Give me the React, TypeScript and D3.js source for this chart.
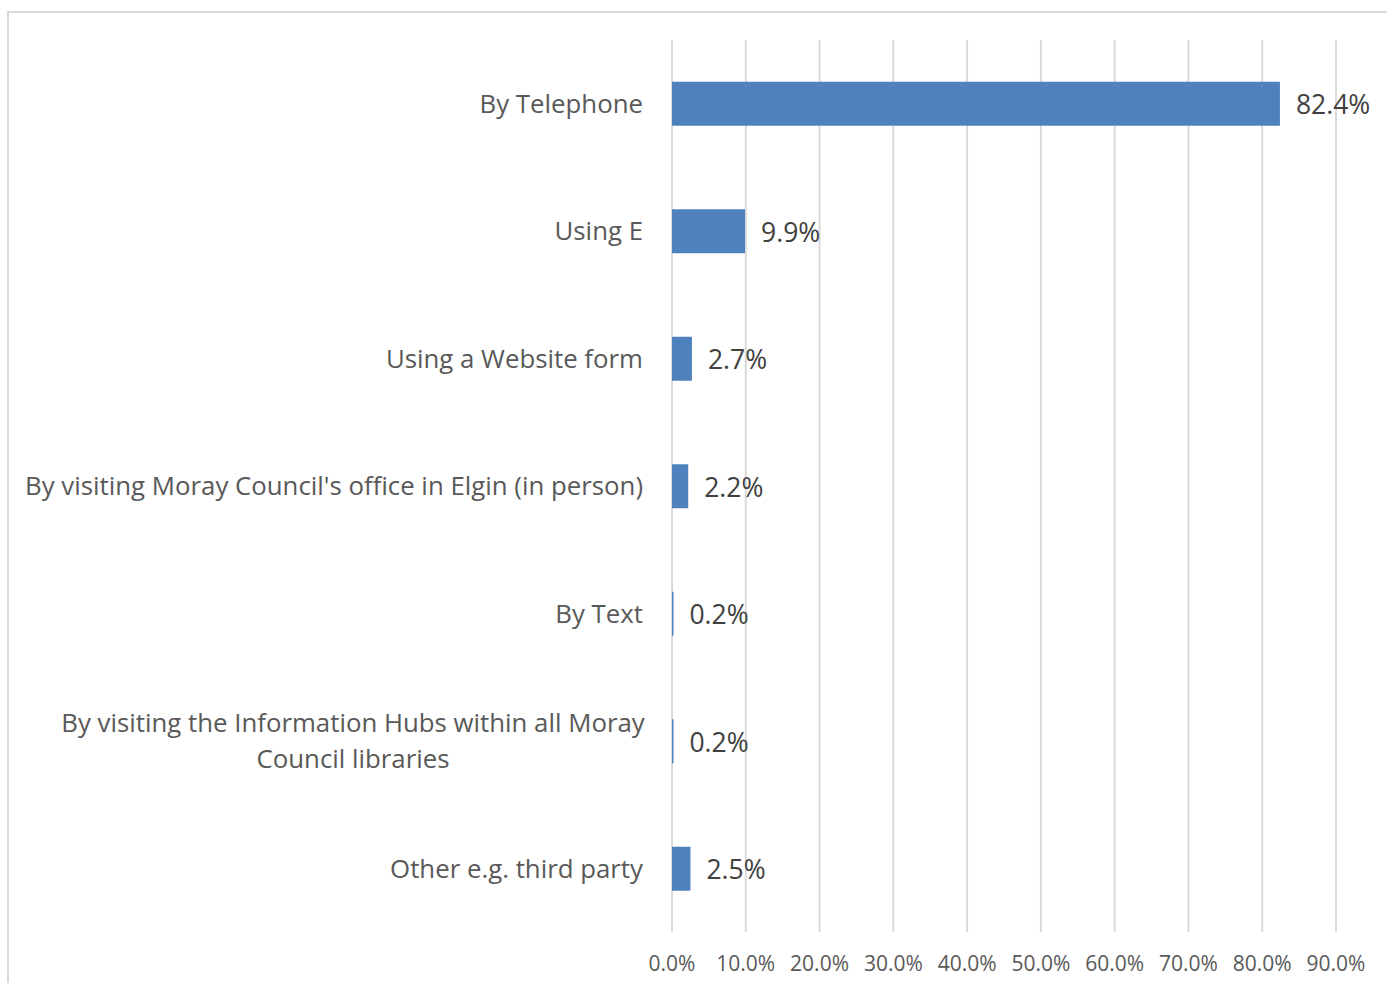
import React from "react";
import * as d3 from "d3";

const categories: string[][] = [
  ["By Telephone"],
  ["Using E"],
  ["Using a Website form"],
  ["By visiting Moray Council's office in Elgin (in person)"],
  ["By Text"],
  ["By visiting the Information Hubs within all Moray", "Council libraries"],
  ["Other e.g. third party"],
];
const values: number[] = [82.4, 9.9, 2.7, 2.2, 0.2, 0.2, 2.5];
const ticks: number[] = [0, 10, 20, 30, 40, 50, 60, 70, 80, 90];

const W = 1387;
const H = 983;
const FONT = "'Open Sans', 'Noto Sans', sans-serif";

export default function App() {
  const x = d3.scaleLinear().domain([0, 90]).range([672, 1336]);
  const ids = categories.map((_, i) => String(i));
  const y = d3.scaleBand().domain(ids).range([40, 932.5]).paddingInner(0.655).paddingOuter(0.3275);
  const bh = y.bandwidth();
  return (
    <svg width={W} height={H} style={{ position: "absolute", left: 0, top: 0, background: "#fff" }}>
      <rect x={8} y={12} width={W + 20} height={H + 20} fill="#fff" stroke="#d9d9d9" strokeWidth={2} />
      {ticks.map((t) => (
        <line key={t} x1={x(t)} x2={x(t)} y1={40} y2={932} stroke="#d9d9d9" strokeWidth={2} />
      ))}
      {values.map((v, i) => {
        const yy = y(String(i))!;
        return (
          <rect key={i} x={x(0)} y={yy} width={Math.max(x(v) - x(0), 1)} height={bh} fill="#4F81BD" />
        );
      })}
      {values.map((v, i) => {
        const cy = y(String(i))! + bh / 2;
        return (
          <text key={"v" + i} x={x(v) + 16} y={cy + 1} dy="0.35em" fontFamily={FONT} fontSize={26.5} fill="#404040">
            {v.toFixed(1) + "%"}
          </text>
        );
      })}
      {categories.map((lines, i) => {
        const cy = y(String(i))! + bh / 2;
        const lh = 36;
        if (lines.length === 1) {
          return (
            <text key={"c" + i} x={643} y={cy} dy="0.35em" textAnchor="end" fontFamily={FONT} fontSize={25.8} fill="#595959">
              {lines[0]}
            </text>
          );
        }
        return (
          <text key={"c" + i} fontFamily={FONT} fontSize={25.8} fill="#595959" textAnchor="middle">
            {lines.map((l, j) => (
              <tspan key={j} x={353} y={cy - ((lines.length - 1) * lh) / 2 + j * lh} dy="0.35em">
                {l}
              </tspan>
            ))}
          </text>
        );
      })}
      {ticks.map((t) => (
        <text key={"t" + t} x={x(t)} y={964} dy="0.35em" textAnchor="middle" fontFamily={FONT} fontSize={21} fill="#595959">
          {t.toFixed(1) + "%"}
        </text>
      ))}
    </svg>
  );
}
